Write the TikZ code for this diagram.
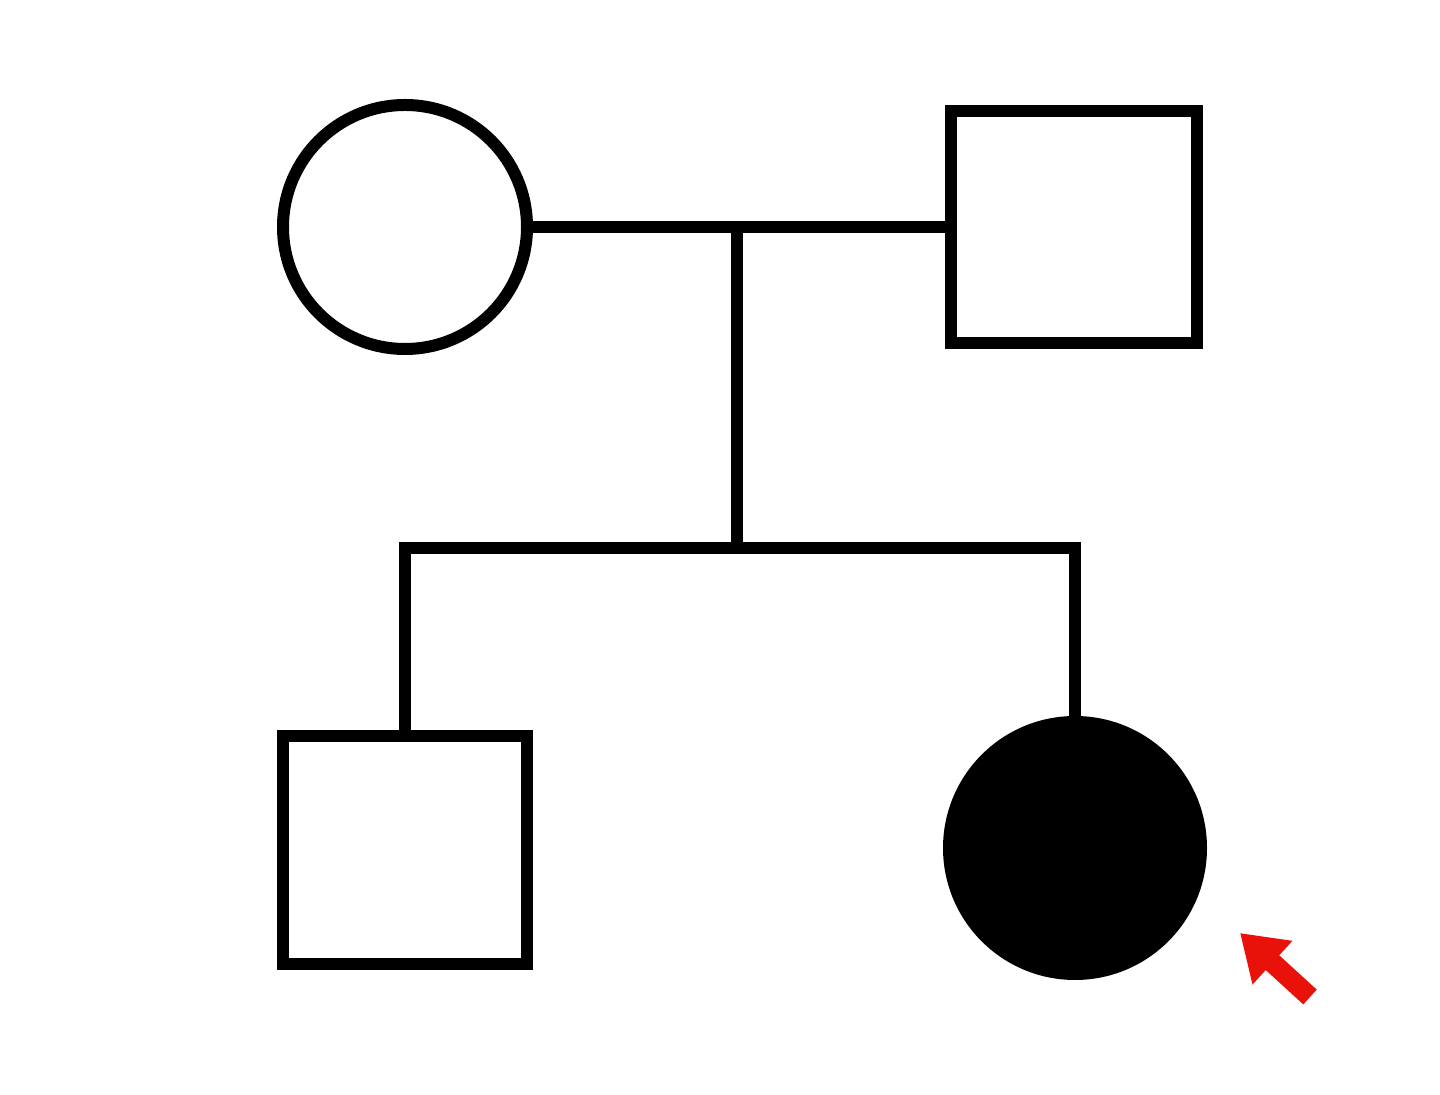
\documentclass[tikz,border=0pt]{standalone}
\usepackage{tikz}
\usetikzlibrary{arrows.meta}
\usetikzlibrary{shapes}
\definecolor{probandred}{RGB}{232,18,10}

\begin{document}
\begin{tikzpicture}[line join=miter,line width=6bp,
  female/.style={circle,draw=black,inner sep=0pt},
  male/.style={rectangle,draw=black,inner sep=0pt},
  affected/.style={fill=black},
]
\useasboundingbox (0bp,0bp) rectangle (720bp,547.5bp);
%%
\node (mother) at (202.5bp,434bp) [female,minimum size=122bp] {};
  \node (father) at (537bp,434bp) [male,minimum width=123bp,minimum height=116bp] {};
  \node (son) at (202.5bp,122.5bp) [male,minimum width=122bp,minimum height=114bp] {};
  \node (daughter) at (537.5bp,123.5bp) [female,affected,minimum size=126bp] {};
  \coordinate (marriage) at (368.5bp,434bp);
  \coordinate (sibship) at (368.5bp,273.5bp);
  \draw [black] (mother) -- (father);
  \draw [black] (marriage) -- (sibship);
  \draw [black] (son.north) |- (sibship) -| (daughter.north);
  \coordinate (pointer) at (655bp,49bp);
  \draw [probandred,line width=10bp,-{Triangle[length=22bp,width=28bp]}] (pointer) -- (620bp,81bp);
%
\end{tikzpicture}
\end{document}
